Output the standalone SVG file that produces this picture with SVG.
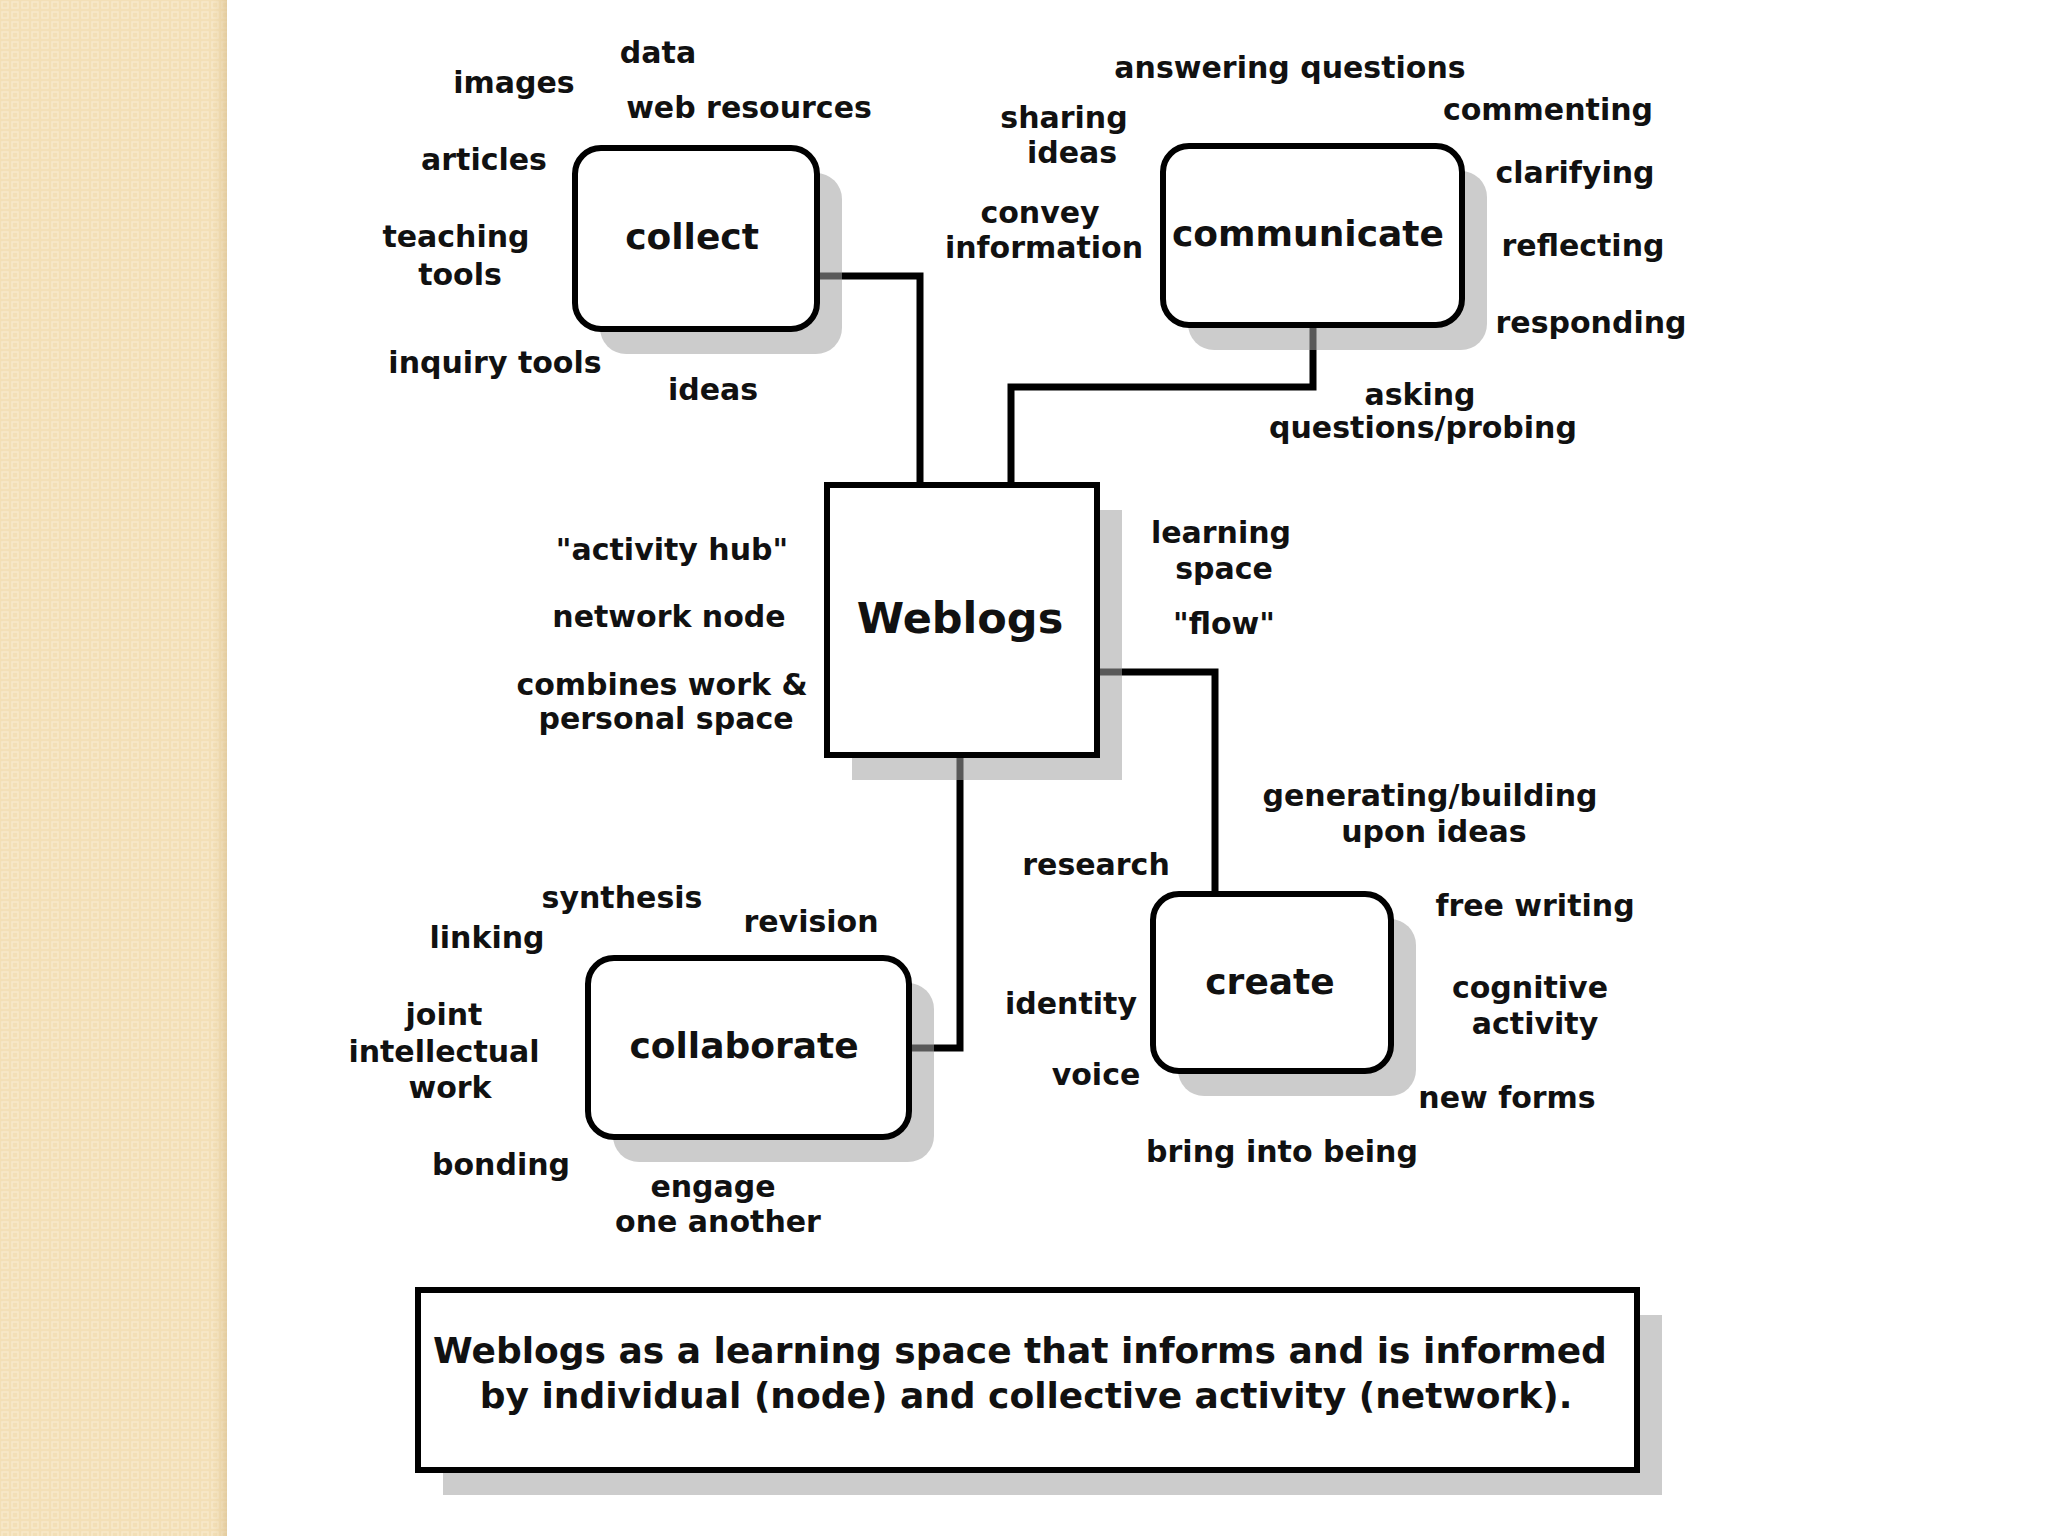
<svg xmlns="http://www.w3.org/2000/svg" width="2048" height="1536" viewBox="0 0 2048 1536">
<defs>
<pattern id="beige" width="10" height="10" patternUnits="userSpaceOnUse">
<rect width="10" height="10" fill="#f3dfb6"/>
<rect x="2" y="2" width="6" height="6" fill="none" stroke="#f8e9cb" stroke-width="1.5"/>
</pattern>
<linearGradient id="edge" x1="0" x2="1" y1="0" y2="0">
<stop offset="0" stop-color="#e8d0a0" stop-opacity="0"/>
<stop offset="1" stop-color="#d9bf8e" stop-opacity="0.6"/>
</linearGradient>
</defs>
<style>
.lbl{font-family:"DejaVu Sans","Verdana",sans-serif;font-weight:bold;font-size:30px;fill:#111;text-anchor:middle}
.node{font-family:"DejaVu Sans","Verdana",sans-serif;font-weight:bold;font-size:36px;fill:#111;text-anchor:middle}
.big{font-size:43px}
.box{fill:#fff;stroke:#000;stroke-width:6}
.shadow{fill:#a3a3a3;fill-opacity:0.55}
.conn{fill:none;stroke:#000;stroke-width:7}
</style>
<rect width="2048" height="1536" fill="#fff"/>
<rect x="0" y="0" width="227" height="1536" fill="url(#beige)"/>
<rect x="212" y="0" width="15" height="1536" fill="url(#edge)"/>

<g id="connectors">
<path class="conn" d="M820 276 H920 V482"/>
<path class="conn" d="M1313 328 V387 H1011 V482"/>
<path class="conn" d="M1100 672 H1215 V892"/>
<path class="conn" d="M960 758 V1048 H912"/>
</g>

<g id="shadows">
<rect class="shadow" x="600" y="173" width="242" height="181" rx="26"/>
<rect class="shadow" x="1188" y="171" width="299" height="179" rx="26"/>
<rect class="shadow" x="852" y="510" width="270" height="270"/>
<rect class="shadow" x="1178" y="919" width="238" height="177" rx="26"/>
<rect class="shadow" x="613" y="983" width="321" height="179" rx="26"/>
<rect class="shadow" x="443" y="1315" width="1219" height="180"/>
</g>

<g id="collect">
<rect class="box" x="575" y="148" width="242" height="181" rx="26"/>
<text class="node" x="692" y="249">collect</text>
</g>
<g id="communicate">
<rect class="box" x="1163" y="146" width="299" height="179" rx="26"/>
<text class="node" x="1308" y="246">communicate</text>
</g>
<g id="weblogs">
<rect class="box" x="827" y="485" width="270" height="270"/>
<text class="node big" x="960" y="633">Weblogs</text>
</g>
<g id="create">
<rect class="box" x="1153" y="894" width="238" height="177" rx="26"/>
<text class="node" x="1270" y="994">create</text>
</g>
<g id="collaborate">
<rect class="box" x="588" y="958" width="321" height="179" rx="26"/>
<text class="node" x="744" y="1058">collaborate</text>
</g>
<g id="caption">
<rect class="box" x="418" y="1290" width="1219" height="180"/>
<text class="node" x="1020" y="1363">Weblogs as a learning space that informs and is informed</text>
<text class="node" x="1026" y="1408">by individual (node) and collective activity (network).</text>
</g>

<g id="labels">
<text class="lbl" x="658" y="63">data</text>
<text class="lbl" x="514" y="93">images</text>
<text class="lbl" x="749" y="118">web resources</text>
<text class="lbl" x="484" y="170">articles</text>
<text class="lbl" x="456" y="247">teaching</text>
<text class="lbl" x="460" y="285">tools</text>
<text class="lbl" x="495" y="373">inquiry tools</text>
<text class="lbl" x="713" y="400">ideas</text>
<text class="lbl" x="1290" y="78">answering questions</text>
<text class="lbl" x="1548" y="120">commenting</text>
<text class="lbl" x="1064" y="128">sharing</text>
<text class="lbl" x="1072" y="163">ideas</text>
<text class="lbl" x="1575" y="183">clarifying</text>
<text class="lbl" x="1040" y="223">convey</text>
<text class="lbl" x="1044" y="258">information</text>
<text class="lbl" x="1583" y="256">reflecting</text>
<text class="lbl" x="1591" y="333">responding</text>
<text class="lbl" x="1420" y="405">asking</text>
<text class="lbl" x="1423" y="438">questions/probing</text>
<text class="lbl" x="672" y="560">"activity hub"</text>
<text class="lbl" x="669" y="627">network node</text>
<text class="lbl" x="662" y="695">combines work &amp;</text>
<text class="lbl" x="666" y="729">personal space</text>
<text class="lbl" x="1221" y="543">learning</text>
<text class="lbl" x="1224" y="579">space</text>
<text class="lbl" x="1224" y="634">"flow"</text>
<text class="lbl" x="1430" y="806">generating/building</text>
<text class="lbl" x="1434" y="842">upon ideas</text>
<text class="lbl" x="1096" y="875">research</text>
<text class="lbl" x="622" y="908">synthesis</text>
<text class="lbl" x="811" y="932">revision</text>
<text class="lbl" x="487" y="948">linking</text>
<text class="lbl" x="1535" y="916">free writing</text>
<text class="lbl" x="1071" y="1014">identity</text>
<text class="lbl" x="1530" y="998">cognitive</text>
<text class="lbl" x="1535" y="1034">activity</text>
<text class="lbl" x="444" y="1025">joint</text>
<text class="lbl" x="444" y="1062">intellectual</text>
<text class="lbl" x="450" y="1098">work</text>
<text class="lbl" x="1096" y="1085">voice</text>
<text class="lbl" x="1507" y="1108">new forms</text>
<text class="lbl" x="1282" y="1162">bring into being</text>
<text class="lbl" x="501" y="1175">bonding</text>
<text class="lbl" x="713" y="1197">engage</text>
<text class="lbl" x="718" y="1232">one another</text>
</g>
</svg>
